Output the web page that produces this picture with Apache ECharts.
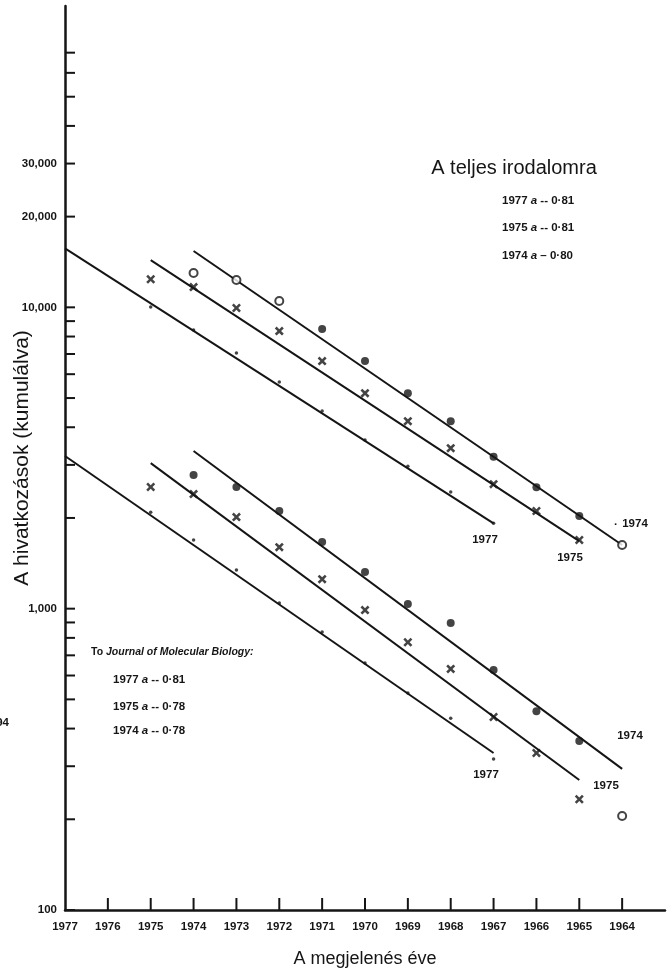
<!DOCTYPE html>
<html>
<head>
<meta charset="utf-8">
<script src="https://cdn.jsdelivr.net/npm/echarts@6/dist/echarts.min.js"></script>
<style>
  html, body { margin: 0; padding: 0; background: #fff; }
  #chart { width: 671px; height: 974px; }
</style>
</head>
<body>
<div id="chart"></div>
<script>
// --- adatok ---
const yearsFrom1975to1967 = [1975, 1974, 1973, 1972, 1971, 1970, 1969, 1968, 1967]
const yearsFrom1975to1965 = [1975, 1974, 1973, 1972, 1971, 1970, 1969, 1968, 1967, 1966, 1965]
const yearsFrom1974to1964 = [1974, 1973, 1972, 1971, 1970, 1969, 1968, 1967, 1966, 1965, 1964]

// teljes irodalom
const total1977 = [10020, 8410, 7050, 5650, 4530, 3630, 2970, 2440, 1920]
const total1975 = [12400, 11670, 9950, 8340, 6630, 5190, 4190, 3410, 2590, 2110, 1690]
const total1974 = [13000, 12330, 10500, 8480, 6630, 5190, 4190, 3190, 2530, 2030, 1626]
const totalFit1977 = [[1977, 15700], [1967, 1920]]
const totalFit1975 = [[1975, 14350], [1965, 1676]]
const totalFit1974 = [[1974, 15380], [1964, 1626]]

// Journal of Molecular Biology
const jmb1977 = [2090, 1690, 1343, 1045, 836, 660, 525, 433, 317]
const jmb1975 = [2535, 2400, 2013, 1600, 1253, 989, 774, 631, 437, 332, 233]
const jmb1974 = [2775, 2535, 2110, 1665, 1323, 1036, 896, 626, 457, 364, 205]
const jmbFit1977 = [[1977, 3210], [1967, 332]]
const jmbFit1975 = [[1975, 3040], [1965, 270]]
const jmbFit1974 = [[1974, 3335], [1964, 294]]

const hollowTotal1974 = [0, 1, 2, 10]
const hollowJmb1974 = [10]

// tengely beosztás
const yTickValues = [100, 200, 300, 400, 500, 600, 700, 800, 900,
  1000, 2000, 3000, 4000, 5000, 6000, 7000, 8000, 9000,
  10000, 20000, 30000, 40000, 50000, 60000, 70000]
const yLabelValues = [100, 1000, 10000, 20000, 30000]
const yLabelTexts = ['100', '1,000', '10,000', '20,000', '30,000']
const xTickYears = [1976, 1975, 1974, 1973, 1972, 1971, 1970, 1969, 1968, 1967, 1966, 1965, 1964]

const INK = '#151515'
const FONT = '"Liberation Sans", Arial, sans-serif'
const crossPath = 'path://M2,0L5,3L8,0L10,2L7,5L10,8L8,10L5,7L2,10L0,8L3,5L0,2Z'

const chart = echarts.init(document.getElementById('chart'))

const pairs = (years, vals) => years.map((y, i) => [y, vals[i]])

const circleData = (years, vals, hollow) => years.map((y, i) => ({
  value: [y, vals[i]],
  itemStyle: hollow.includes(i)
    ? { color: '#fff', borderColor: INK, borderWidth: 2 }
    : { color: INK }
}))

const fitLine = data => ({
  type: 'line',
  data,
  symbol: 'none',
  silent: true,
  lineStyle: { color: INK, width: 2 },
  z: 3
})

const dots = data => ({
  type: 'scatter', data, symbol: 'circle', symbolSize: 3.5,
  itemStyle: { color: INK }, z: 4
})
const crosses = data => ({
  type: 'scatter', data, symbol: crossPath, symbolSize: 9,
  itemStyle: { color: INK }, z: 4
})
const circles = data => ({
  type: 'scatter', data, symbol: 'circle', symbolSize: 8, z: 4
})

const text = (x, y, str, extra) => ({
  type: 'text',
  x, y,
  style: Object.assign({
    text: str,
    fill: INK,
    font: 'bold 11.5px ' + FONT,
    textVerticalAlign: 'middle',
    rich: { i: { fontStyle: 'italic', fontWeight: 'bold', fontSize: 11.5, fontFamily: FONT, fill: INK } }
  }, extra || {})
})

const option = {
  animation: false,
  grid: { left: 65, right: 6, top: 6, bottom: 64, outerBoundsMode: 'none', containLabel: false },
  xAxis: {
    type: 'value',
    min: 1963,
    max: 1977,
    interval: 1,
    inverse: true,
    axisLine: { onZero: false, lineStyle: { color: INK, width: 2.5 } },
    axisTick: { show: false },
    splitLine: { show: false },
    axisLabel: {
      color: INK,
      fontFamily: FONT,
      fontWeight: 'bold',
      fontSize: 11.5,
      margin: 11,
      formatter: v => (v === 1963 ? '' : String(v))
    },
    name: 'A megjelenés éve',
    nameLocation: 'middle',
    nameGap: 40,
    nameTextStyle: { color: INK, fontFamily: FONT, fontSize: 18 }
  },
  yAxis: {
    type: 'log',
    logBase: 10,
    min: 100,
    max: 100000,
    axisLine: { onZero: false, lineStyle: { color: INK, width: 2.5 } },
    axisTick: { show: false },
    axisLabel: { show: false },
    splitLine: { show: false },
    minorTick: { show: false },
    name: 'A hivatkozások (kumulálva)',
    nameLocation: 'middle',
    nameGap: 32,
    nameTextStyle: { color: INK, fontFamily: FONT, fontSize: 21 }
  },
  series: [
    // y tengely osztásai
    {
      type: 'custom',
      data: yTickValues.map(v => [1977, v]),
      silent: true,
      clip: false,
      renderItem: (params, api) => {
        const p = api.coord([api.value(0), api.value(1)])
        return {
          type: 'line',
          shape: { x1: p[0], y1: p[1], x2: p[0] + 10, y2: p[1] },
          style: { stroke: INK, lineWidth: 2 }
        }
      },
      z: 5
    },
    {
      type: 'custom',
      data: yLabelValues.map((v, i) => [1977, v, i]),
      silent: true,
      clip: false,
      renderItem: (params, api) => {
        const p = api.coord([api.value(0), api.value(1)])
        return {
          type: 'text',
          x: p[0] - 8,
          y: p[1],
          style: {
            text: yLabelTexts[api.value(2)],
            fill: INK,
            font: 'bold 11.5px ' + FONT,
            textAlign: 'right',
            textVerticalAlign: 'middle'
          }
        }
      },
      z: 5
    },
    // x tengely osztásai
    {
      type: 'custom',
      data: xTickYears.map(y => [y, 100]),
      silent: true,
      clip: false,
      renderItem: (params, api) => {
        const p = api.coord([api.value(0), api.value(1)])
        return {
          type: 'line',
          shape: { x1: p[0], y1: p[1], x2: p[0], y2: p[1] - 12 },
          style: { stroke: INK, lineWidth: 2 }
        }
      },
      z: 5
    },
    fitLine(totalFit1977),
    fitLine(totalFit1975),
    fitLine(totalFit1974),
    fitLine(jmbFit1977),
    fitLine(jmbFit1975),
    fitLine(jmbFit1974),
    dots(pairs(yearsFrom1975to1967, total1977)),
    crosses(pairs(yearsFrom1975to1965, total1975)),
    circles(circleData(yearsFrom1974to1964, total1974, hollowTotal1974)),
    dots(pairs(yearsFrom1975to1967, jmb1977)),
    crosses(pairs(yearsFrom1975to1965, jmb1975)),
    circles(circleData(yearsFrom1974to1964, jmb1974, hollowJmb1974))
  ],
  graphic: [
    text(514, 168, 'A teljes irodalomra', { font: '20px ' + FONT, textAlign: 'center' }),
    text(502, 201, '1977 {i|a} -- 0·81'),
    text(502, 228, '1975 {i|a} -- 0·81'),
    text(502, 256, '1974 {i|a} – 0·80'),
    text(91, 652, 'To {i|Journal of Molecular Biology:}', { font: 'bold 10.5px ' + FONT,
      rich: { i: { fontStyle: 'italic', fontWeight: 'bold', fontSize: 10.5, fontFamily: FONT, fill: INK } } }),
    text(113, 680, '1977 {i|a} -- 0·81'),
    text(113, 707, '1975 {i|a} -- 0·78'),
    text(113, 731, '1974 {i|a} -- 0·78'),
    // egyenesek végén
    text(485, 540, '1977', { textAlign: 'center' }),
    text(570, 558, '1975', { textAlign: 'center' }),
    text(635, 524, '1974', { textAlign: 'center' }),
    text(616, 525, '·', { textAlign: 'center' }),
    text(486, 775, '1977', { textAlign: 'center' }),
    text(606, 786, '1975', { textAlign: 'center' }),
    text(630, 736, '1974', { textAlign: 'center' }),
    // a szomszédos oldal széle
    text(9, 723, '94', { textAlign: 'right' })
  ]
}

chart.setOption(option)

window.addEventListener('resize', () => {
  chart.resize()
})
</script>
</body>
</html>
